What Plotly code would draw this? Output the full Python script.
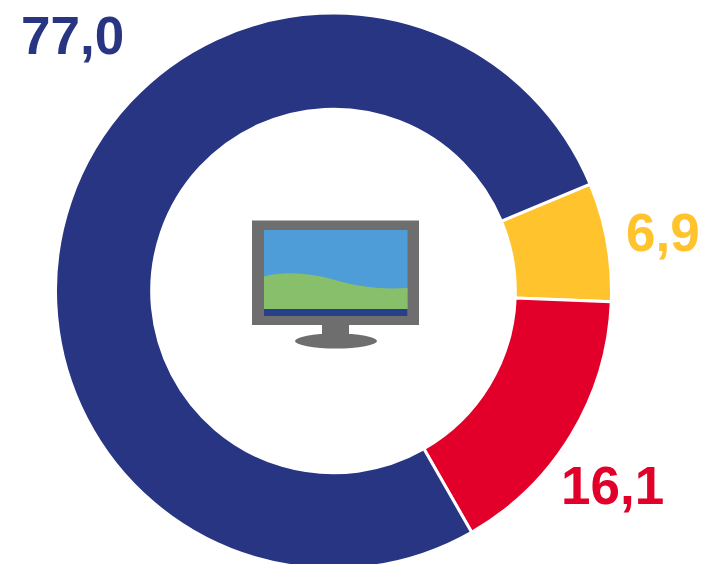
import plotly.graph_objects as go

labels = ["Yellow", "Red", "Blue"]
values = [6.9, 16.1, 77.0]
text_labels = ["6,9", "16,1", "77,0"]
colors = ["#FFC32D", "#E2002B", "#283583"]

W, H = 704, 570
cx, cy, R = 333.5, 291, 278
fig = go.Figure(go.Pie(
    labels=labels, values=values, hole=0.654, sort=False, direction="clockwise",
    rotation=67.4, marker=dict(colors=colors, line=dict(color="white", width=3)),
    textinfo="none", hoverinfo="skip", showlegend=False,
    domain=dict(x=[(cx - R) / W, (cx + R) / W], y=[1 - (cy + R) / H, 1 - (cy - R) / H]),
))

def xp(x): return x / W
def yp(y): return 1 - y / H

pos = [(663, 233), (612, 485), (72.5, 36)]
annotations = [
    dict(x=xp(px), y=yp(py), xref="paper", yref="paper", text=t, showarrow=False,
         font=dict(family="Liberation Sans", size=53, color=c, weight="bold"),
         xanchor="center", yanchor="middle")
    for (px, py), t, c in zip(pos, text_labels, colors)
]

GREY = "#6E6E6E"
shapes = [
    dict(type="rect", x0=xp(252), x1=xp(419), y0=yp(220.5), y1=yp(325), xref="paper", yref="paper", fillcolor=GREY, line_width=0),
    dict(type="rect", x0=xp(264), x1=xp(407.5), y0=yp(230), y1=yp(316), xref="paper", yref="paper", fillcolor="#4F9DD8", line_width=0),
    dict(type="path", path=f"M {xp(264)} {yp(276.5)} C {xp(285)} {yp(271)}, {xp(310)} {yp(273)}, {xp(335)} {yp(280)} C {xp(360)} {yp(287)}, {xp(380)} {yp(289.5)}, {xp(407.5)} {yp(288)} L {xp(407.5)} {yp(309)} L {xp(264)} {yp(309)} Z", xref="paper", yref="paper", fillcolor="#88BF6B", line_width=0),
    dict(type="rect", x0=xp(264), x1=xp(407.5), y0=yp(309), y1=yp(316), xref="paper", yref="paper", fillcolor="#283F8A", line_width=0),
    dict(type="rect", x0=xp(322), x1=xp(349), y0=yp(325), y1=yp(337), xref="paper", yref="paper", fillcolor=GREY, line_width=0),
    dict(type="circle", x0=xp(295), x1=xp(377), y0=yp(333.5), y1=yp(348.5), xref="paper", yref="paper", fillcolor=GREY, line_width=0),
]

fig.update_layout(width=W, height=H, margin=dict(l=0, r=0, t=0, b=0), paper_bgcolor="white",
                  annotations=annotations, shapes=shapes)
fig.write_html("out.html", config=dict(displayModeBar=False),
               post_script="document.body.style.margin='0';document.documentElement.style.overflow='hidden';")
